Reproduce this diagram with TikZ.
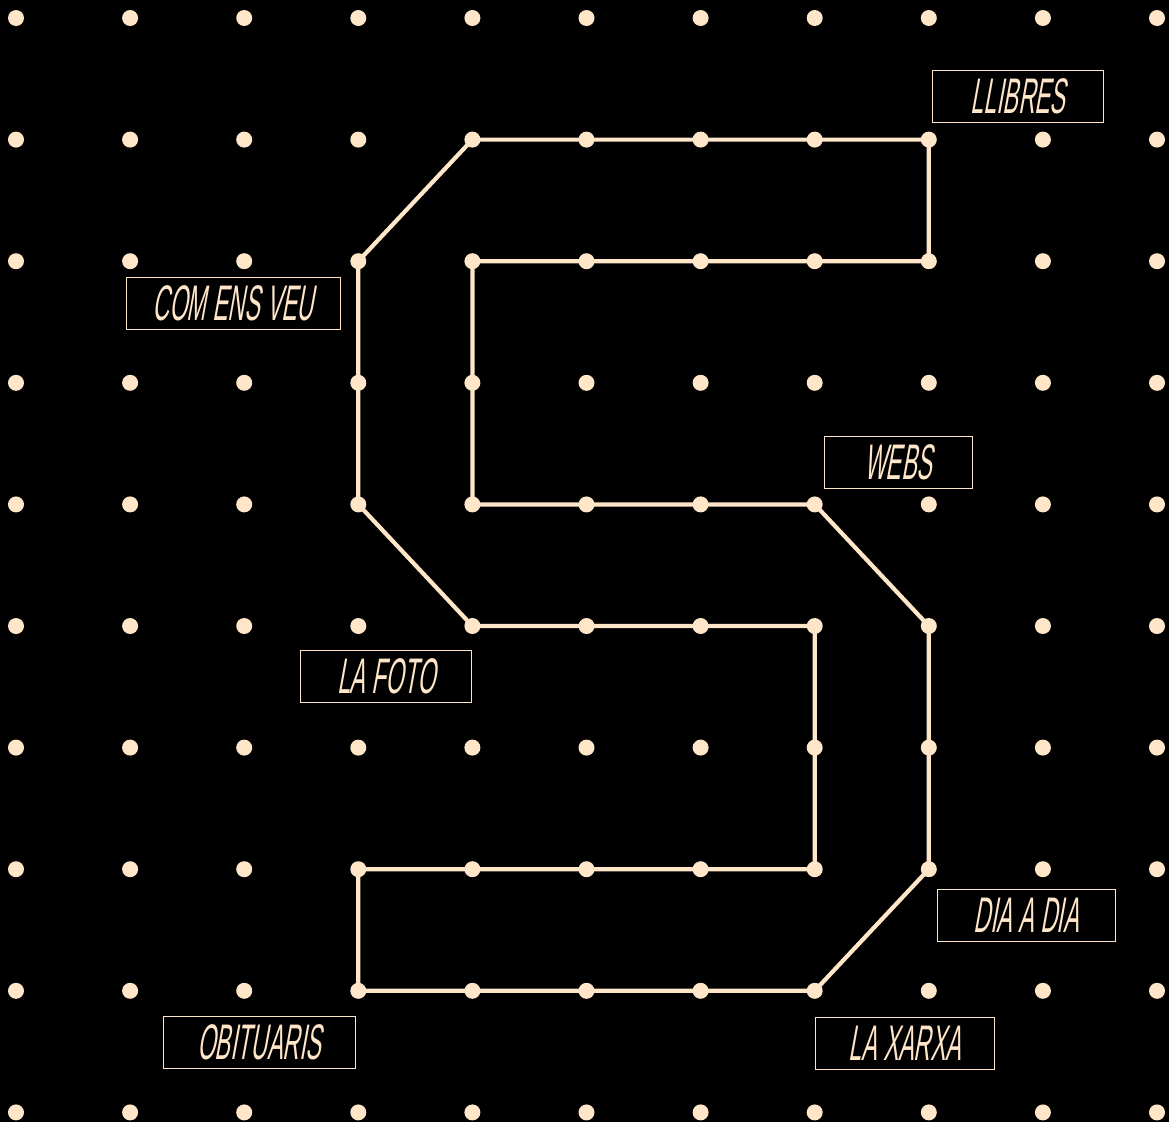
\documentclass[tikz,border=0pt]{standalone}
\usepackage{fontspec}
\newfontfamily\tagfont[FakeStretch=0.46, FakeSlant=0.18]{Liberation Sans}
\usetikzlibrary{positioning, calc}
\definecolor{bisque}{HTML}{FFE6C9}
\definecolor{night}{HTML}{000000}

\begin{document}
\begin{tikzpicture}[
  x=1pt, y=-1pt,
  dot/.style={
    circle, fill=bisque, draw=none, minimum size=16pt, inner sep=0pt
  },
  track/.style={line width=4.2pt, bisque, line join=round},
  tag/.style={
    draw=bisque, line width=1pt, fill=night, text=bisque,
    minimum width=#1, minimum height=52pt, inner sep=0pt,
    font=\tagfont\fontsize{50}{50}\selectfont
  },
]

% Background
\fill[night] (0,0) rectangle (1169,1122);
\useasboundingbox (0,0) rectangle (1169,1122);

% =============================================
% Grid of dots
% =============================================
\foreach \i in {0,...,10}
  \foreach \j in {0,...,9}
    \node[dot] (d-\i-\j) at ({16+114.1*\i},{18+121.6*\j}) {};

% =============================================
% The S track
% =============================================
\draw[track]
  (d-8-1.center) -- (d-4-1.center) -- (d-3-2.center) -- (d-3-4.center)
  -- (d-4-5.center) -- (d-7-5.center) -- (d-7-7.center) -- (d-3-7.center)
  -- (d-3-8.center) -- (d-7-8.center) -- (d-8-7.center) -- (d-8-5.center)
  -- (d-7-4.center) -- (d-4-4.center) -- (d-4-2.center) -- (d-8-2.center)
  -- cycle;

% =============================================
% Labels
% =============================================
\node[tag=171pt] (llibres) at (1018,96)  {LLIBRES};
\node[tag=214pt] (comens)  at (233,303)  {COM ENS VEU};
\node[tag=148pt] (webs)    at (898,462)  {WEBS};
\node[tag=171pt] (lafoto)  at (386,676)  {LA FOTO};
\node[tag=178pt] (diaadia) at (1026,915) {DIA A DIA};
\node[tag=192pt] (obit)    at (259,1042) {OBITUARIS};
\node[tag=179pt] (laxarxa) at (905,1043) {LA XARXA};

\end{tikzpicture}
\end{document}
